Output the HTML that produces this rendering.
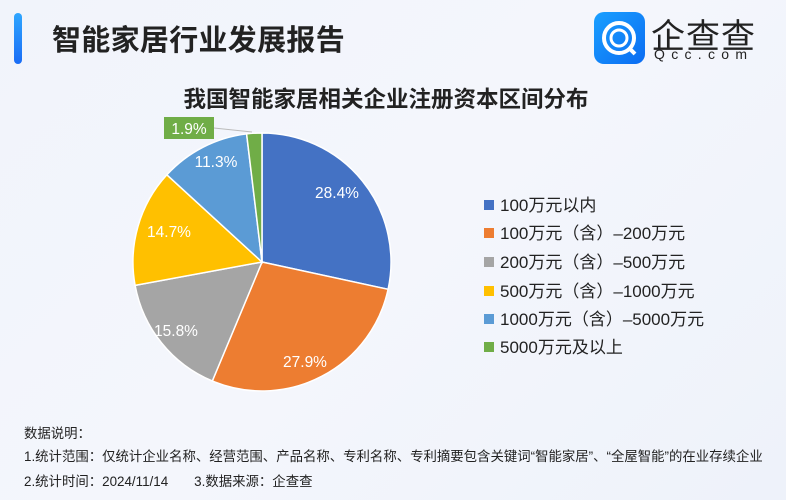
<!DOCTYPE html>
<html><head><meta charset="utf-8"><style>
body{margin:0;width:786px;height:500px;overflow:hidden;font-family:"Liberation Sans","Noto Sans CJK SC",sans-serif;}
#c{position:relative;width:786px;height:500px;background:linear-gradient(135deg,#f1f4fb 0%,#f4f6fc 50%,#eef2fa 100%);}
.a{position:absolute;white-space:nowrap;}
</style></head><body><div id="c">
<div class="a" style="left:14px;top:13px;width:8px;height:51px;border-radius:4px;background:linear-gradient(#2fa6ff,#1a6cf5);"></div>
<div class="a" style="left:52px;top:17px;font-size:29px;font-weight:bold;color:#222;letter-spacing:0.3px;">智能家居行业发展报告</div>
<div class="a" style="left:594px;top:12px;width:51px;height:52px;border-radius:10px;background:linear-gradient(135deg,#1aa0ff,#0b6cf2);"></div>
<svg class="a" style="left:594px;top:12px" width="51" height="52"><circle cx="25" cy="26" r="15" fill="none" stroke="#fff" stroke-width="4"/><circle cx="25" cy="26" r="8" fill="none" stroke="#fff" stroke-width="3"/><line x1="35" y1="36" x2="41" y2="42" stroke="#fff" stroke-width="4"/></svg>
<div class="a" style="left:651px;top:9px;font-size:34px;color:#222;letter-spacing:1px;">企查查</div>
<div class="a" style="left:654px;top:46px;font-size:14px;color:#222;letter-spacing:6.3px;">Qcc.com</div>
<div class="a" style="left:0;width:786px;top:82px;text-align:center;font-size:22.5px;font-weight:bold;color:#222;"><span style="position:relative;left:-7px">我国智能家居相关企业注册资本区间分布</span></div>
<svg class="a" style="left:0;top:0" width="786" height="500">
<g stroke="#fff" stroke-width="1.5">
<path d="M262,262 L262,133 A129,129 0 0 1 388.1,289.3 Z" fill="#4472c4"/>
<path d="M262,262 L388.1,289.3 A129,129 0 0 1 212.3,381 Z" fill="#ed7d31"/>
<path d="M262,262 L212.3,381 A129,129 0 0 1 135.1,285.4 Z" fill="#a5a5a5"/>
<path d="M262,262 L135.1,285.4 A129,129 0 0 1 166.9,174.8 Z" fill="#ffc000"/>
<path d="M262,262 L166.9,174.8 A129,129 0 0 1 246.6,133.9 Z" fill="#5b9bd5"/>
<path d="M262,262 L246.6,133.9 A129,129 0 0 1 262,133 Z" fill="#70ad47"/>
</g>
<polyline points="214,128 252,132" fill="none" stroke="#bbb" stroke-width="1"/>
<rect x="164" y="117" width="50" height="22" fill="#70ad47"/>
<g font-size="15.5" fill="#fff" text-anchor="middle">
<text x="189" y="134">1.9%</text>
<text x="337" y="198">28.4%</text>
<text x="305" y="367">27.9%</text>
<text x="176" y="336">15.8%</text>
<text x="169" y="237">14.7%</text>
<text x="216" y="167">11.3%</text>
</g>
<g font-size="17" fill="#222">
<rect x="484" y="200" width="10" height="10" fill="#4472c4"/><text x="500" y="211">100万元以内</text>
<rect x="484" y="228" width="10" height="10" fill="#ed7d31"/><text x="500" y="239">100万元（含）–200万元</text>
<rect x="484" y="257" width="10" height="10" fill="#a5a5a5"/><text x="500" y="268">200万元（含）–500万元</text>
<rect x="484" y="286" width="10" height="10" fill="#ffc000"/><text x="500" y="297">500万元（含）–1000万元</text>
<rect x="484" y="314" width="10" height="10" fill="#5b9bd5"/><text x="500" y="325">1000万元（含）–5000万元</text>
<rect x="484" y="342" width="10" height="10" fill="#70ad47"/><text x="500" y="353">5000万元及以上</text>
</g>
</svg>
<div class="a" style="left:24px;top:422px;font-size:13.4px;color:#222;">数据说明：</div>
<div class="a" style="left:24px;top:445px;font-size:13.4px;color:#222;">1.统计范围：仅统计企业名称、经营范围、产品名称、专利名称、专利摘要包含关键词“智能家居”、“全屋智能”的在业存续企业</div>
<div class="a" style="left:24px;top:470px;font-size:13.4px;color:#222;">2.统计时间：2024/11/14&nbsp;&nbsp;&nbsp;&nbsp;&nbsp;&nbsp;&nbsp;3.数据来源：企查查</div>
</div></body></html>
